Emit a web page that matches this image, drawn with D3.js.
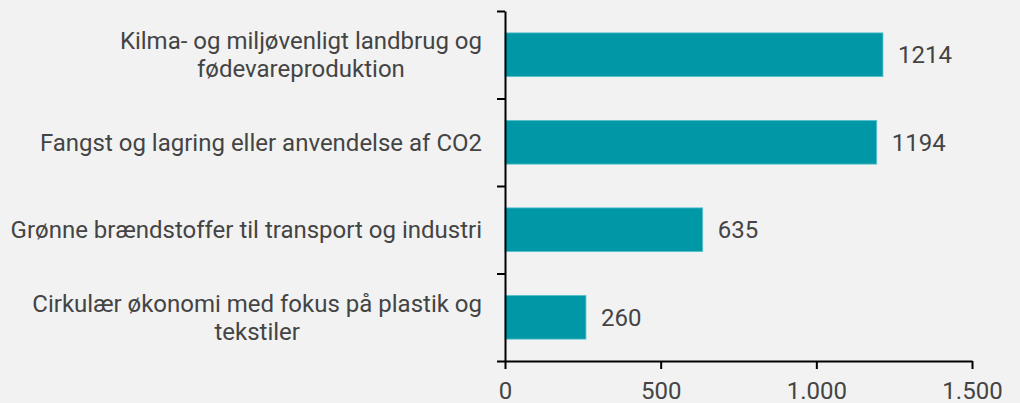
<!DOCTYPE html>
<html>
<head>
<meta charset="utf-8">
<script src="https://cdn.jsdelivr.net/npm/d3@7"></script>
<style>
  html, body { margin: 0; padding: 0; background: #f2f2f2; }
  svg { display: block; font-family: Roboto, "Noto Sans", sans-serif; }
</style>
</head>
<body>
<svg id="chart" width="1020" height="403"></svg>
<script>
// data
const categories = [
  "Kilma- og miljøvenligt landbrug og fødevareproduktion",
  "Fangst og lagring eller anvendelse af CO2",
  "Grønne brændstoffer til transport og industri",
  "Cirkulær økonomi med fokus på plastik og tekstiler"
];
const values = [1214, 1194, 635, 260];
const xTicks = [0, 500, 1000, 1500];

const svg = d3.select("#chart");
const width = +svg.attr("width");
const height = +svg.attr("height");
const margin = { top: 11, right: 48, bottom: 42, left: 505 };

svg.append("rect").attr("width", width).attr("height", height).attr("fill", "#f2f2f2");

const x = d3.scaleLinear().domain([0, 1500]).range([margin.left, width - margin.right]);
const y = d3.scaleBand()
  .domain(categories)
  .range([margin.top, height - margin.bottom])
  .paddingInner(0.5)
  .paddingOuter(0.25);

// boundary scale for the category tick marks
const yEdge = d3.scaleLinear().domain([0, categories.length]).range([margin.top, height - margin.bottom]);

const textColor = "#444444";
const fontSize = 24;

// bars
svg.append("g")
  .selectAll("rect")
  .data(values)
  .join("rect")
    .attr("x", x(0))
    .attr("y", (d, i) => y(categories[i]))
    .attr("width", d => x(d) - x(0))
    .attr("height", y.bandwidth())
    .attr("fill", "#0097a7")
    .attr("stroke", "#5cc3cc")
    .attr("stroke-width", 0.8);

// value labels
svg.append("g")
  .selectAll("text")
  .data(values)
  .join("text")
    .attr("x", d => x(d) + 15)
    .attr("y", (d, i) => y(categories[i]) + y.bandwidth() / 2)
    .attr("dy", "0.36em")
    .attr("fill", textColor)
    .style("font-size", fontSize + "px")
    .text(d => d);

// y axis (ticks between categories)
const yAxis = svg.append("g")
  .attr("transform", `translate(${x(0)},0)`)
  .call(d3.axisLeft(yEdge).tickValues(d3.range(categories.length + 1)).tickFormat("").tickSizeInner(8).tickSizeOuter(0));
yAxis.select(".domain").attr("stroke", "#000").attr("stroke-width", 2);
yAxis.selectAll(".tick line").attr("stroke", "#000").attr("stroke-width", 2);

// x axis
const xAxis = svg.append("g")
  .attr("transform", `translate(0,${height - margin.bottom})`)
  .call(d3.axisBottom(x).tickValues(xTicks).tickFormat(d => d3.format(",")(d).replace(/,/g, ".")).tickSizeInner(8).tickSizeOuter(0).tickPadding(13));
xAxis.select(".domain").attr("stroke", "#000").attr("stroke-width", 2);
xAxis.selectAll(".tick line").attr("stroke", "#000").attr("stroke-width", 2);
xAxis.selectAll(".tick text")
  .attr("fill", textColor)
  .style("font-size", fontSize + "px")
  .style("font-family", "Roboto, sans-serif");

// category labels, wrapped and centred as a block right-aligned to the axis
const labelRight = x(0) - 23;
const maxLabelWidth = 475;
const lineHeight = 28;

const labels = svg.append("g")
  .selectAll("text")
  .data(categories)
  .join("text")
    .attr("fill", textColor)
    .style("font-size", fontSize + "px")
    .attr("text-anchor", "middle");

labels.each(function (d) {
  const t = d3.select(this);
  const words = d.split(" ");
  const lines = [];
  let line = [];
  const probe = t.append("tspan");
  words.forEach(w => {
    const test = line.concat(w).join(" ");
    probe.text(test);
    if (probe.node().getComputedTextLength() > maxLabelWidth && line.length) {
      lines.push(line.join(" "));
      line = [w];
    } else {
      line.push(w);
    }
  });
  lines.push(line.join(" "));
  probe.remove();

  // widest line decides the block centre
  const widths = lines.map(l => {
    const p = t.append("tspan").text(l);
    const w = p.node().getComputedTextLength();
    p.remove();
    return w;
  });
  const blockW = d3.max(widths);
  const cx = labelRight - blockW / 2;
  const cy = y(d) + y.bandwidth() / 2;
  const startY = cy - (lines.length - 1) * lineHeight / 2;

  lines.forEach((l, i) => {
    t.append("tspan")
      .attr("x", cx)
      .attr("y", startY + i * lineHeight)
      .attr("dy", "0.36em")
      .text(l);
  });
});
</script>
</body>
</html>
